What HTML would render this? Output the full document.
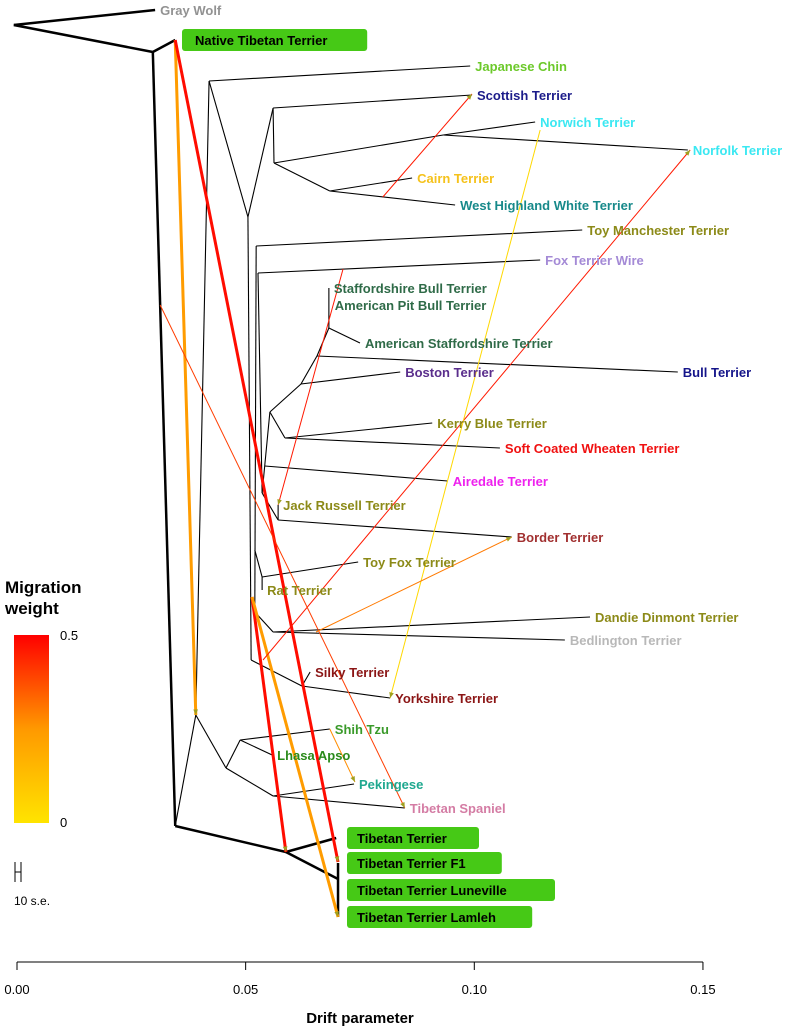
<!DOCTYPE html>
<html><head><meta charset="utf-8"><style>
body{margin:0;background:#fff;}
svg{display:block;font-family:"Liberation Sans",Arial,sans-serif;}
.lb{font-size:13px;font-weight:bold;}
</style></head><body>
<svg id="chart" width="797" height="1027" viewBox="0 0 797 1027" xmlns="http://www.w3.org/2000/svg">
<defs><linearGradient id="mg" x1="0" y1="1" x2="0" y2="0"><stop offset="0" stop-color="#ffe400"/><stop offset="0.5" stop-color="#ff9900"/><stop offset="1" stop-color="#ff0000"/></linearGradient></defs>
<g id="tree"></g>
<g id="mig"></g>
<g id="labels"></g>
<g id="axis"></g>
<text x="360" y="1023" text-anchor="middle" font-size="15" font-weight="bold">Drift parameter</text>
<g>
<text x="5" y="593" font-size="17" font-weight="bold">Migration</text>
<text x="5" y="614" font-size="17" font-weight="bold">weight</text>
<rect x="14" y="635" width="35" height="188" fill="url(#mg)"/>
<text x="60" y="640" font-size="13">0.5</text>
<text x="60" y="827" font-size="13">0</text>
</g>
<g stroke="#000" stroke-width="1">
<line x1="15" y1="862" x2="15" y2="882"/><line x1="21" y1="862" x2="21" y2="882"/><line x1="15" y1="872" x2="21" y2="872"/>
</g>
<text x="14" y="905" font-size="12">10 s.e.</text>
</svg>
<script>
const ticks=[0.00,0.05,0.10,0.15];
const tickLabels=["0.00","0.05","0.10","0.15"];
const nodes={
root:[-0.0007,25],wolf:[0.0302,10],n1:[0.0297,52],ntt:[0.0346,40],n2:[0.0346,826],n3:[0.0391,715],
n4:[0.0420,81],chin:[0.0991,66],n5:[0.0505,217],n6:[0.0560,108],scot:[0.0995,95],
n7:[0.0562,163],n8:[0.0932,135],norwich:[0.1133,122],norfolk:[0.1467,150],
n9:[0.0684,191],cairn:[0.0864,178],whwt:[0.0958,205],n10:[0.0512,660],
n11:[0.0523,246],toyman:[0.1236,230],n11b:[0.0520,612],
n12:[0.0527,273],fox:[0.1144,260],n13:[0.0536,493],n14:[0.0553,412],
n15:[0.0621,384],boston:[0.0838,372],n16:[0.0656,356],bull:[0.1445,372],
n17:[0.0682,328],staff:[0.0682,288],ampit:[0.0684,305],amstaff:[0.0750,343],
n18:[0.0586,438],kerry:[0.0908,423],scwt:[0.1056,448],nA:[0.0542,466],airedale:[0.0942,481],
n19:[0.0571,520],jrt:[0.0571,505],border:[0.1082,537],
n20:[0.0520,550],n21:[0.0536,577],rat:[0.0536,590],toyfox:[0.0746,562],
n22:[0.0560,632],dandie:[0.1253,617],bedl:[0.1198,640],
n23:[0.0623,686],silky:[0.0641,672],york:[0.0816,698],
n24:[0.0457,768],n25:[0.0488,740],shih:[0.0684,729],lhasa:[0.0558,755],
n26:[0.0560,796],peke:[0.0737,784],tspan:[0.0848,808],
n27:[0.0588,852],tt:[0.0698,838],n28:[0.0702,879],f1:[0.0702,863],lune:[0.0702,890],lam:[0.0702,917]};
const edges=[["root","wolf",1],["root","n1",1],["n1","ntt",1],["n1","n2",1],["n2","n3",0],["n3","n4",0],["n4","chin",0],
["n4","n5",0],["n5","n6",0],["n6","scot",0],["n6","n7",0],["n7","n8",0],["n8","norwich",0],["n8","norfolk",0],
["n7","n9",0],["n9","cairn",0],["n9","whwt",0],["n5","n10",0],["n11","toyman",0],["n11","n11b",0],
["n12","fox",0],["n12","n13",0],["n13","n14",0],["n14","n15",0],["n15","boston",0],["n15","n16",0],["n16","bull",0],
["n16","n17",0],["n17","staff",0],["n17","amstaff",0],["n14","n18",0],["n18","kerry",0],["n18","scwt",0],
["nA","airedale",0],["n13","n19",0],["n19","jrt",0],["n19","border",0],["n20","n21",0],["n21","rat",0],["n21","toyfox",0],
["n11b","n22",0],["n22","dandie",0],["n22","bedl",0],["n10","n23",0],["n23","silky",0],["n23","york",0],
["n3","n24",0],["n24","n25",0],["n25","shih",0],["n25","lhasa",0],["n24","n26",0],["n26","peke",0],["n26","tspan",0],
["n2","n27",1],["n27","tt",1],["n27","n28",1],["f1","lam",1]];
const migFrom=[[0.0346,40],[0.0346,40],[0.0514,597],[0.0514,597],[0.0800,197],[0.0713,269],[0.0538,660],[0.1144,130],[0.0313,305],[0.0654,632],[0.0684,729]];
const migTo=[[0.0391,715],[0.0702,862],[0.0588,852],[0.0702,917],[0.0995,94],[0.0571,505],[0.1472,150],[0.0816,698],[0.0848,808],[0.1082,537],[0.0739,782]];
const migWeight=[0.24,0.48,0.48,0.24,0.46,0.46,0.46,0.04,0.4,0.3,0.27];
const migThick=[1,1,1,1,0,0,0,0,0,0,0];
const leafNames=["Gray Wolf","Japanese Chin","Scottish Terrier","Norwich Terrier","Norfolk Terrier","Cairn Terrier","West Highland White Terrier","Toy Manchester Terrier","Fox Terrier Wire","Staffordshire Bull Terrier","American Pit Bull Terrier","American Staffordshire Terrier","Bull Terrier","Boston Terrier","Kerry Blue Terrier","Soft Coated Wheaten Terrier","Airedale Terrier","Jack Russell Terrier","Border Terrier","Toy Fox Terrier","Rat Terrier","Dandie Dinmont Terrier","Bedlington Terrier","Silky Terrier","Yorkshire Terrier","Shih Tzu","Lhasa Apso","Pekingese","Tibetan Spaniel"];
const leafNodes=["wolf","chin","scot","norwich","norfolk","cairn","whwt","toyman","fox","staff","ampit","amstaff","bull","boston","kerry","scwt","airedale","jrt","border","toyfox","rat","dandie","bedl","silky","york","shih","lhasa","peke","tspan"];
const leafColors=["#929292","#6cc92a","#1c1c8a","#3be8f2","#3be8f2","#f5c21c","#17898a","#8c8a18","#a48ad6","#2f6b48","#2f6b48","#2f6b48","#15158a","#5a2e8c","#8c8a18","#f01010","#ee22ee","#8c8a18","#a13030","#8c8a18","#8c8a18","#8c8a18","#b8b8b8","#8b1515","#8b1515","#3a9a2a","#2a8a1a","#1fa88f","#d47ca4"];
const boxNames=["Native Tibetan Terrier","Tibetan Terrier","Tibetan Terrier F1","Tibetan Terrier Luneville","Tibetan Terrier Lamleh"];
const boxNodes=["ntt","tt","f1","lune","lam"];
const X=d=>17+d*4573;
const NS="http://www.w3.org/2000/svg";
function mk(t,a,p){const e=document.createElementNS(NS,t);for(const k in a)e.setAttribute(k,a[k]);p.appendChild(e);return e;}
const tree=document.getElementById('tree');
edges.forEach(([a,b,t])=>{const A=nodes[a],B=nodes[b];
const l=mk('line',{x1:X(A[0]),y1:A[1],x2:X(B[0]),y2:B[1],stroke:'#000','stroke-width':t?2.5:1.1},tree);

});
function col(w){const t=Math.max(0,Math.min(1,w/0.5));let g;if(t<0.5)g=228-(228-153)*t*2;else g=153-153*(t-0.5)*2;return `rgb(255,${Math.round(g)},0)`;}
const mig=document.getElementById('mig');
migFrom.forEach((f,i)=>{const to=migTo[i];const x1=X(f[0]),y1=f[1],x2=X(to[0]),y2=to[1];const c=col(migWeight[i]);
const l=mk('line',{x1,y1,x2,y2,stroke:c,'stroke-width':migThick[i]?3:1},mig);


const ang=Math.atan2(y2-y1,x2-x1),s=6;
const p=mk('polygon',{points:`${x2},${y2} ${x2-s*Math.cos(ang-0.4)},${y2-s*Math.sin(ang-0.4)} ${x2-s*Math.cos(ang+0.4)},${y2-s*Math.sin(ang+0.4)}`,fill:'#a0a020'},mig);

});
const lab=document.getElementById('labels');
leafNames.forEach((n,i)=>{const N=nodes[leafNodes[i]];
const t=mk('text',{x:X(N[0])+5,y:N[1]+5,fill:leafColors[i],class:'lb'},lab);t.textContent=n;

});
boxNames.forEach((n,i)=>{const N=nodes[boxNodes[i]];const x=boxNodes[i]==='ntt'?182:347;
const w=n.length*7.6+18;
const r=mk('rect',{x:x,y:N[1]-11,width:w,height:22,rx:3,fill:'#46c916'},lab);


const t=mk('text',{x:x+(i===0?13:10),y:N[1]+5,fill:'#000',class:'lb'},lab);t.textContent=n;

});
const ax=document.getElementById('axis');
mk('line',{x1:X(ticks[0]),y1:962,x2:X(ticks[ticks.length-1]),y2:962,stroke:'#000'},ax);
ticks.forEach((v,i)=>{const l=mk('line',{x1:X(v),y1:962,x2:X(v),y2:970,stroke:'#000'},ax);


const t=mk('text',{x:X(v),y:994,'text-anchor':'middle','font-size':13},ax);t.textContent=tickLabels[i];

});
</script>
</body></html>
